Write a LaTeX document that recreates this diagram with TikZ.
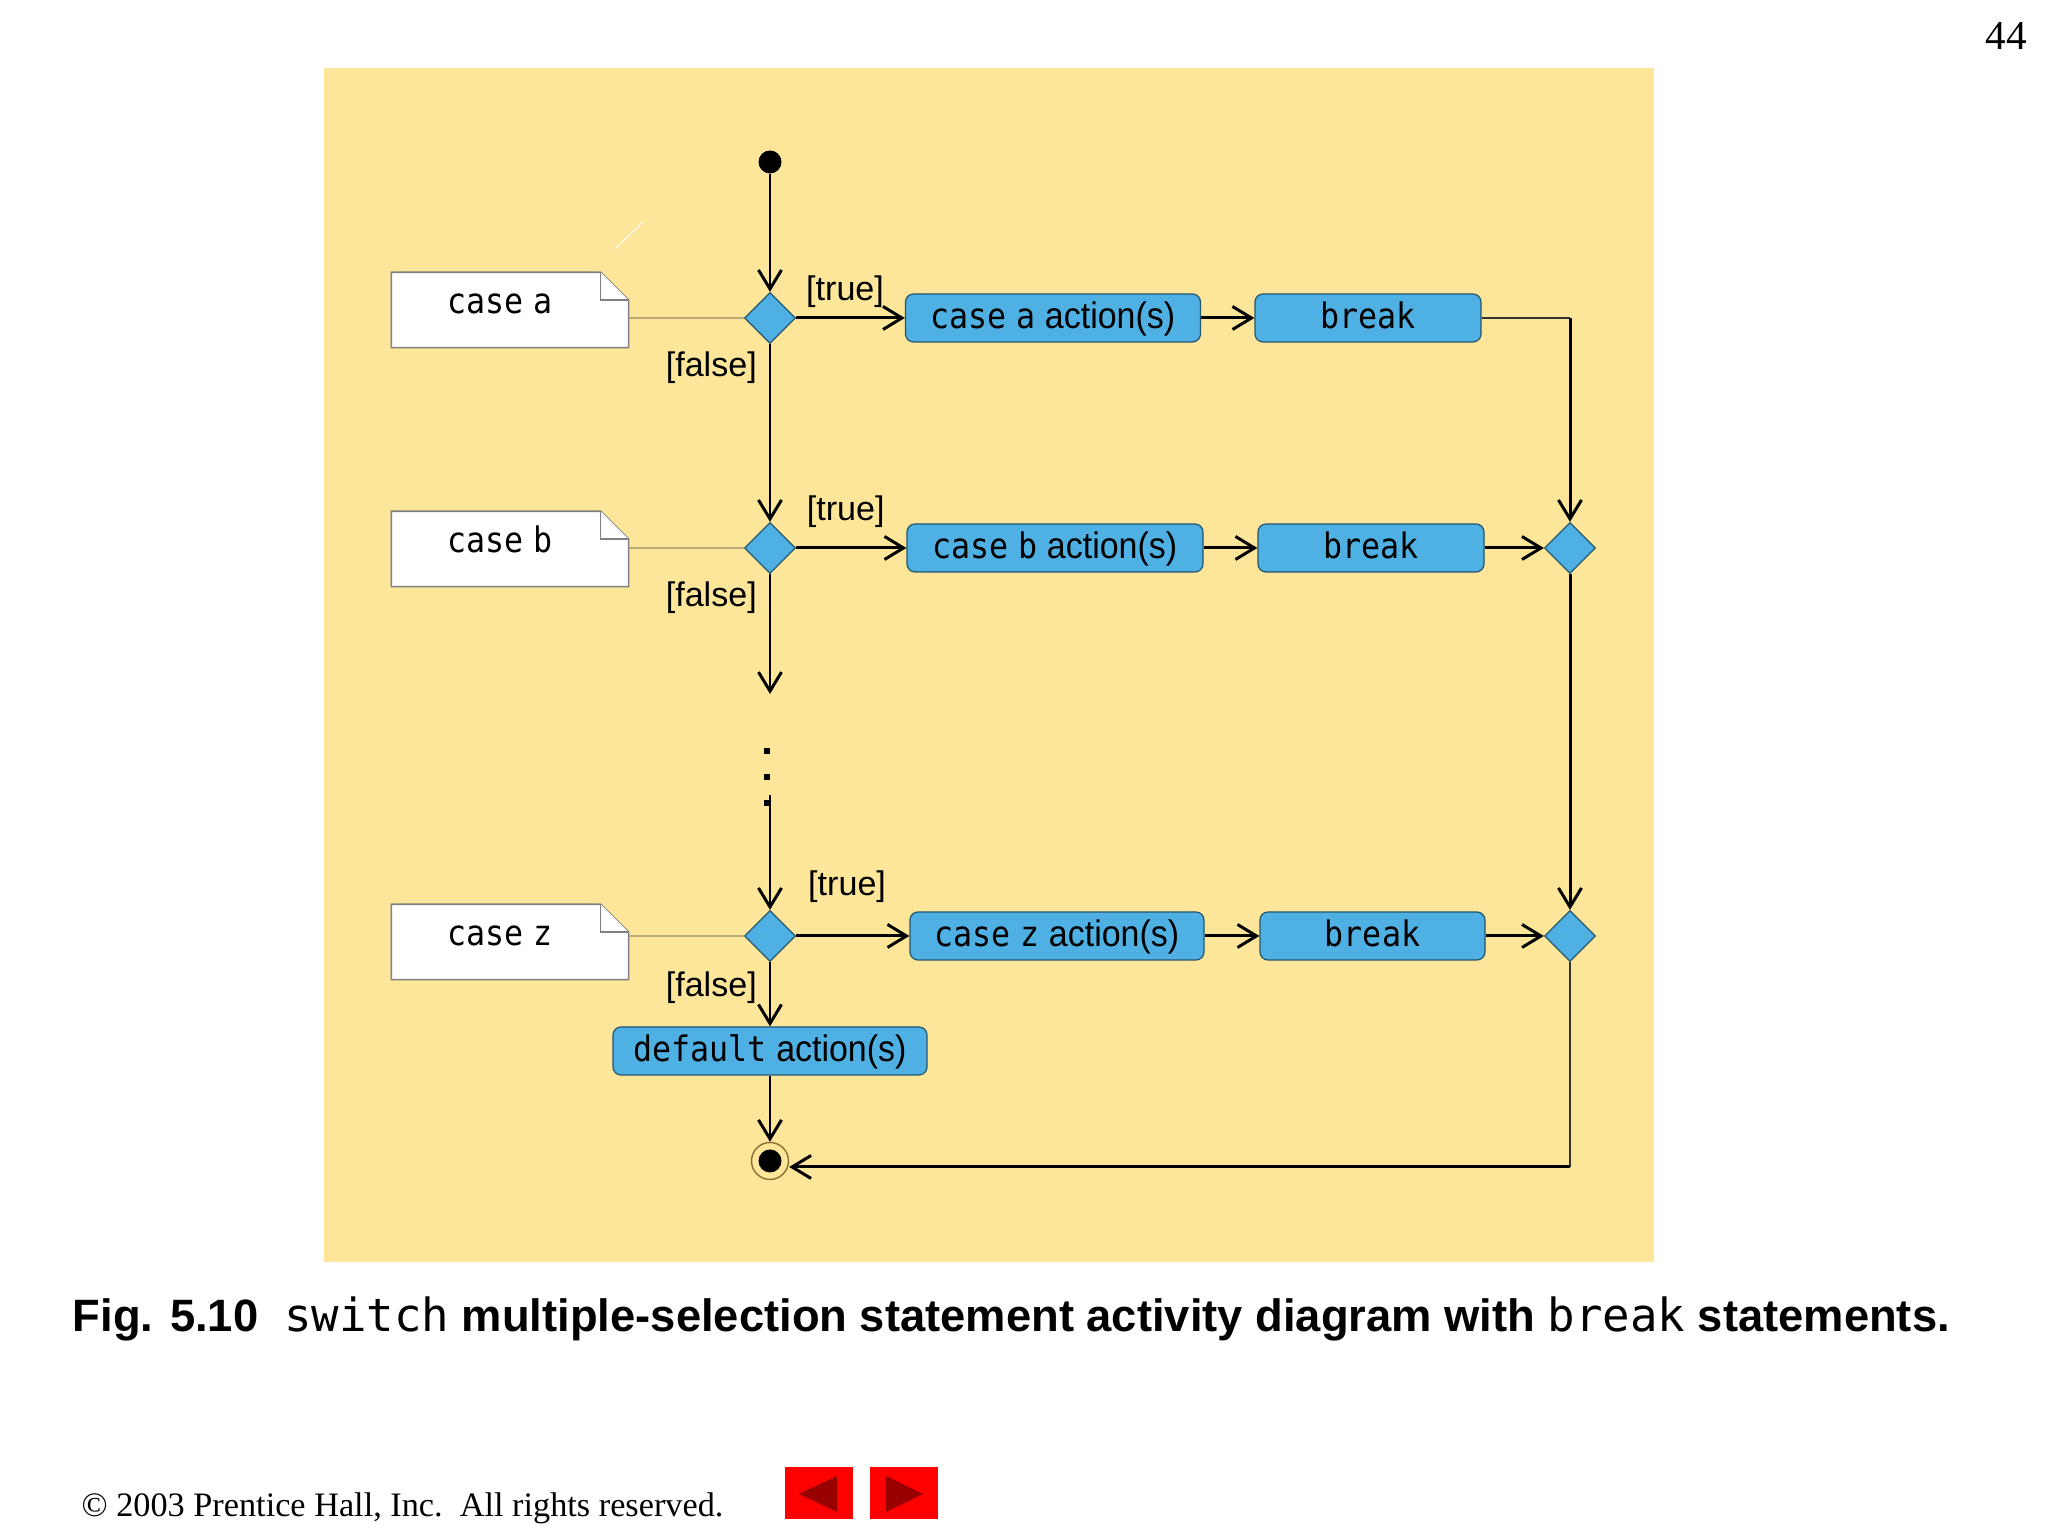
\documentclass[tikz,border=0pt]{standalone}
\usepackage{fontspec}
\setmainfont{Liberation Sans}
\newfontfamily\codefont[FakeStretch=0.9, WordSpace=0.5]{DejaVu Sans Mono}
\newfontfamily\captioncode{DejaVu Sans Mono}
\newfontfamily\actionfont[FakeStretch=0.92]{Liberation Sans}
\newfontfamily\pagefont{Liberation Serif}
\usetikzlibrary{shapes.geometric, arrows.meta, positioning, calc}
\definecolor{slidebg}{RGB}{253,230,153}
\definecolor{actionblue}{RGB}{79,176,228}
\definecolor{actionedge}{RGB}{35,85,110}
\definecolor{noteedge}{RGB}{128,128,128}
\definecolor{notelinecolor}{RGB}{185,170,120}
\definecolor{ringcolor}{RGB}{140,110,50}
\definecolor{navred}{RGB}{255,0,0}
\definecolor{navdark}{RGB}{153,0,0}
\newcommand\kw[1]{{\codefont\fontsize{10}{12}\selectfont #1}}

\begin{document}
\begin{tikzpicture}[
    action/.style={draw=actionedge, fill=actionblue, rounded corners=0.08cm, line width=0.35pt, minimum height=0.48cm, inner sep=0pt, font=\actionfont\fontsize{10.5}{12}\selectfont, text height=0.8em, text depth=0.2em},
    choice/.style={draw=actionedge, fill=actionblue, diamond, line width=0.35pt, minimum width=0.51cm, minimum height=0.51cm, inner sep=0pt},
    startnode/.style={circle, fill=black, minimum size=0.23cm, inner sep=0pt},
    endnode/.style={circle, draw=ringcolor, line width=0.4pt, minimum size=0.37cm, inner sep=0pt, path picture={\fill[black] (path picture bounding box.center) circle (0.115cm);}},
    note/.style={minimum width=2.36cm, minimum height=0.74cm, inner sep=0pt},
    notebox/.style={draw=noteedge, fill=white, line width=0.45pt},
    notetext/.style={font=\codefont\fontsize{10}{12}\selectfont, text height=0.19cm, text depth=0pt, inner sep=0pt},
    guard/.style={font=\fontsize{9.7}{11}\selectfont},
    dot/.style={rectangle, fill=black, minimum size=0.055cm, inner sep=0pt},
    flow/.style={-{Straight Barb[length=1.9mm, width=2.3mm]}, line width=0.85pt},
    link/.style={line width=0.35pt, black!80},
    notelink/.style={line width=0.4pt, notelinecolor}
]
    % Page and slide
    \useasboundingbox (0,0) rectangle (20.48,15.36);
    \fill[white] (0,0) rectangle (20.48,15.36);
    \fill[slidebg] (3.24,2.74) rectangle (16.54,14.68);
    \draw[white, line width=0.3pt] (6.15,12.87) -- (6.43,13.14);

    % Notes
    \node[note] (notea) at (5.10,12.26) {};
    \node[note] (noteb) at (5.10,9.87) {};
    \node[note] (notez) at (5.10,5.94) {};
    \draw[notebox] (notea.south west) -- (notea.north west) -- ([xshift=-0.28cm]notea.north east) -- ([yshift=-0.28cm]notea.north east) -- (notea.south east) -- cycle;
    \draw[notebox] ([xshift=-0.28cm]notea.north east) |- ([yshift=-0.28cm]notea.north east);
    \draw[notebox] (noteb.south west) -- (noteb.north west) -- ([xshift=-0.28cm]noteb.north east) -- ([yshift=-0.28cm]noteb.north east) -- (noteb.south east) -- cycle;
    \draw[notebox] ([xshift=-0.28cm]noteb.north east) |- ([yshift=-0.28cm]noteb.north east);
    \draw[notebox] (notez.south west) -- (notez.north west) -- ([xshift=-0.28cm]notez.north east) -- ([yshift=-0.28cm]notez.north east) -- (notez.south east) -- cycle;
    \draw[notebox] ([xshift=-0.28cm]notez.north east) |- ([yshift=-0.28cm]notez.north east);
    \node[notetext] (casea) at ([xshift=-0.10cm, yshift=0.06cm]notea.center) {case a};
    \node[notetext] (caseb) at ([xshift=-0.10cm, yshift=0.06cm]noteb.center) {case b};
    \node[notetext] (casez) at ([xshift=-0.10cm, yshift=0.06cm]notez.center) {case z};

    % Start and end
    \node[startnode] (start) at (7.70,13.74) {};
    \node[endnode] (final) at (7.70,3.75) {};

    % Decisions and merges
    \node[choice] (da) at (7.70,12.18) {};
    \node[choice] (db) at (7.70,9.88) {};
    \node[choice] (dz) at (7.70,6.00) {};
    \node[choice] (mb) at (15.70,9.88) {};
    \node[choice] (mz) at (15.70,6.00) {};

    % Actions
    \node[action, minimum width=2.95cm] (acta) at (10.53,12.18) {\kw{case a} action(s)};
    \node[action, minimum width=2.26cm] (breaka) at (13.68,12.18) {\kw{break}};
    \node[action, minimum width=2.96cm] (actb) at (10.55,9.88) {\kw{case b} action(s)};
    \node[action, minimum width=2.26cm] (breakb) at (13.71,9.88) {\kw{break}};
    \node[action, minimum width=2.94cm] (actz) at (10.57,6.00) {\kw{case z} action(s)};
    \node[action, minimum width=2.25cm] (breakz) at (13.725,6.00) {\kw{break}};
    \node[action, minimum width=3.14cm] (default) at (7.70,4.85) {\kw{default} action(s)};

    % Omitted cases
    \coordinate (gap) at (7.70,8.42);
    \node[dot] (dot1) at (7.67,7.85) {};
    \node[dot] (dot2) at (7.67,7.59) {};
    \node[dot] (dot3) at (7.67,7.33) {};
    \coordinate (resume) at (7.70,7.41);
    \coordinate (turna) at (mb |- breaka);
    \coordinate (back) at (15.70,3.69);

    % Note links
    \draw[notelink] (notea.east |- da) -- (da);
    \draw[notelink] (noteb.east |- db) -- (db);
    \draw[notelink] (notez.east |- dz) -- (dz);

    % Connections
    \draw[flow] (start) -- (da);
    \draw[flow] (da) -- (acta) node[guard, pos=0.45, above, yshift=-0.03cm] (truea) {[true]};
    \draw[flow] (acta) -- (breaka);
    \draw[link] (breaka) -- (turna);
    \draw[flow] (turna) -- (mb);
    \draw[flow] (da) -- (db) node[guard, pos=0, below left, yshift=0.06cm] (falsea) {[false]};
    \draw[flow] (db) -- (actb) node[guard, pos=0.45, above, yshift=0.07cm] (trueb) {[true]};
    \draw[flow] (actb) -- (breakb);
    \draw[flow] (breakb) -- (mb);
    \draw[flow] (db) -- (gap) node[guard, pos=0, below left, yshift=0.06cm] (falseb) {[false]};
    \draw[flow] (resume) -- (dz);
    \draw[flow] (dz) -- (actz) node[guard, pos=0.45, above, yshift=0.20cm] (truez) {[true]};
    \draw[flow] (actz) -- (breakz);
    \draw[flow] (breakz) -- (mz);
    \draw[flow] (mb) -- (mz);
    \draw[flow] (dz) -- (default) node[guard, pos=0, below left, yshift=0.04cm] (falsez) {[false]};
    \draw[flow] (default) -- (final);
    \draw[link] (mz) -- (back);
    \draw[flow] (back) -- (back -| final.east);

    % Caption, footer and page number
    \node[anchor=west, inner sep=0pt, font=\bfseries\fontsize{12.9}{15}\selectfont] (caption) at (0.72,2.17) {Fig. 5.10\hspace{0.26cm}{\captioncode\mdseries\fontsize{13}{15}\selectfont switch} multiple-selection statement activity diagram with {\captioncode\mdseries\fontsize{13}{15}\selectfont break} statements.};
    \node[anchor=west, inner sep=0pt, font=\pagefont\fontsize{9.75}{12}\selectfont] (rights) at (0.81,0.28) {\textcopyright{} 2003 Prentice Hall, Inc.\ \ All rights reserved.};
    \node[inner sep=0pt, font=\pagefont\fontsize{11.7}{14}\selectfont] (pagenum) at (20.06,15.00) {44};

    % Navigation buttons
    \fill[navred] (7.85,0.17) rectangle (8.53,0.69);
    \fill[navdark] (7.99,0.42) -- (8.37,0.60) -- (8.37,0.24) -- cycle;
    \fill[navred] (8.70,0.17) rectangle (9.38,0.69);
    \fill[navdark] (9.23,0.42) -- (8.86,0.60) -- (8.86,0.24) -- cycle;
\end{tikzpicture}
\end{document}
